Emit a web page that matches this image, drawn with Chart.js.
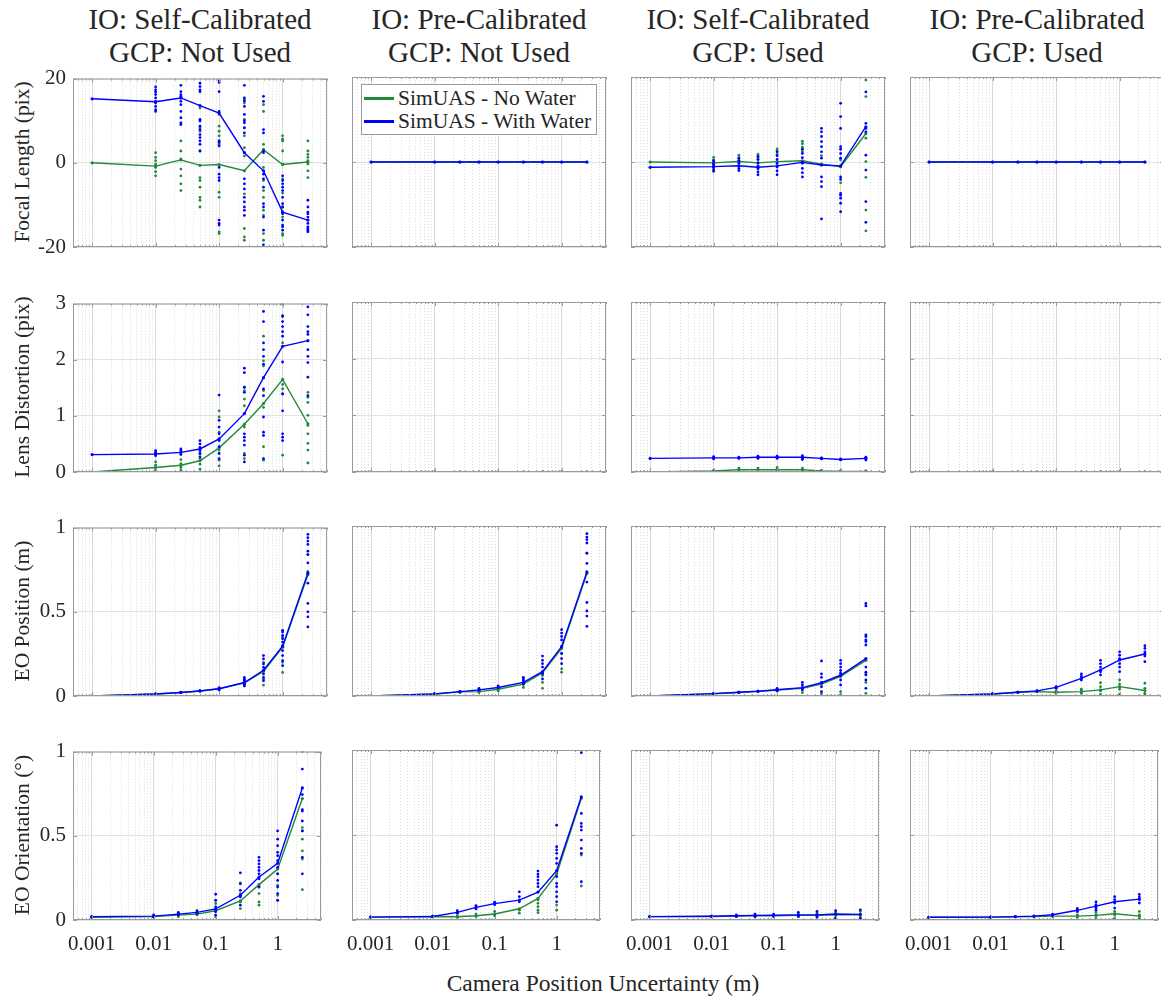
<!DOCTYPE html>
<html>
<head>
<meta charset="utf-8">
<script src="https://cdn.jsdelivr.net/npm/chart.js@4.4.1/dist/chart.umd.min.js"></script>
<style>
  html, body { margin: 0; padding: 0; background: #fff; }
  body { position: relative; width: 1161px; height: 1000px; overflow: hidden; font-family: "Liberation Serif", "DejaVu Serif", serif; color: #262626; }
  canvas.panel { position: absolute; }
  .coltitle { position: absolute; width: 300px; text-align: center; font-size: 29px; line-height: 33px; white-space: nowrap; }
  .ylabel { position: absolute; width: 240px; text-align: center; font-size: 21.5px; line-height: 24px; transform: rotate(-90deg); white-space: nowrap; }
  .xlabel { position: absolute; width: 400px; text-align: center; font-size: 23.5px; line-height: 26px; white-space: nowrap; }
  .legend { position: absolute; left: 361px; top: 84px; width: 234px; height: 49px; border: 1px solid #9b9b9b; background: #fff; z-index: 5; font-size: 21.5px; }
  .legend div { position: absolute; left: 36px; white-space: nowrap; line-height: 22px; }
  .legend span { position: absolute; left: 2px; width: 30px; height: 3px; }
</style>
</head>
<body>
<div class="legend">
  <span style="top:12px;background:#21893a"></span><div style="top:2px">SimUAS - No Water</div>
  <span style="top:35px;background:#0000ff"></span><div style="top:25px">SimUAS - With Water</div>
</div>
<script>
// camera position uncertainty (m) tested in every panel
const xPositions = [0.001, 0.01, 0.025, 0.05, 0.1, 0.25, 0.5, 1, 2.5];
const zeroLine = [0, 0, 0, 0, 0, 0, 0, 0, 0];
const noRuns = [[], [], [], [], [], [], [], [], []];

const ioTitles = ['IO: Self-Calibrated', 'IO: Pre-Calibrated', 'IO: Self-Calibrated', 'IO: Pre-Calibrated'];
const gcpTitles = ['GCP: Not Used', 'GCP: Not Used', 'GCP: Used', 'GCP: Used'];
const rowLabels = ['Focal Length (pix)', 'Lens Distortion (pix)', 'EO Position (m)', 'EO Orientation (\u00b0)'];
const yMins = [-20, 0, 0, 0];
const yMaxs = [20, 3, 1, 1];
const ySteps = [20, 1, 0.5, 0.5];
const xTickLabels = [0.001, 0.01, 0.1, 1];

// ---- focal length error ----
const focalSelfDryMean = [0, -0.8, 0.7, -0.6, -0.4, -1.9, 3.1, -0.4, 0.2];
const focalSelfWetMean = [15.2, 14.5, 15.4, 13.6, 11.8, 2.4, -1.9, -11.7, -13.6];
const focalSelfDryRuns = [
  [], [2.4, 1.3, 0.5, -0.3, -1.1, -2.1, -3.1], [5.2, 2.8, 0.9, -1.5, -3.1, -5.0, -6.6],
  [13.0, 8.3, 7.5, 2.8, -3.5, -4.2, -5.8, -8.2, -8.9, -10.5],
  [11.5, 8.7, 7.5, 6.4, 5.2, 4.4, -7.0, -8.2, -16.4, -16.8],
  [15.0, 14.2, 10.3, 8.3, 6.4, 3.6, 1.6, -7.4, -15.6, -17.6, -18.4],
  [13.8, 12.2, 4.4, 3.2, -1.1, -4.2, -6.6, -8.2, -11.3, -12.5, -16.8, -18.4],
  [6.4, 5.6, 5.2, 2.8, -0.3, -3.8, -7.2, -10.5, -12.9, -16.8, -17.2],
  [5.2, 2.8, 2.0, 1.3, 0.5, -0.3, -1.9, -3.5]
];
const focalSelfWetRuns = [
  [], [18.0, 17.3, 16.8, 16.2, 15.4, 14.6, 14.2, 13.4, 12.6, 12.2],
  [18.4, 16.9, 16.2, 15.8, 15.4, 14.6, 13.8, 12.2, 10.7, 9.5, 9.1],
  [18.9, 18.1, 17.3, 16.9, 10.3, 9.9, 8.7, 7.9, 6.7, 6.0, 5.2, 4.4, 2.8],
  [19.5, 19.1, 16.9, 12.2, 5.2, 4.8, 4.0, -1.1, -2.7, -3.5, -4.2, -13.6, -14.4, -14.8],
  [18.4, 15.4, 14.7, 13.4, 11.5, 10.0, 9.5, 8.3, 7.1, -3.8, -5.0, -6.2, -8.2, -9.3, -10.5, -11.3, -12.5],
  [15.8, 14.6, 7.9, 7.1, 2.8, 2.4, -2.7, -3.8, -5.8, -9.7, -10.5, -12.9, -16.0, -19.5],
  [-3.1, -4.2, -5.0, -5.8, -6.6, -8.2, -9.7, -10.5, -11.7, -12.1, -13.6, -14.8, -15.2, -16.0],
  [-8.9, -10.5, -11.7, -12.1, -12.9, -13.6, -14.4, -15.2, -15.6, -16.0, -16.4]
];
const focalSelfGcpDryMean = [0, -0.2, 0.1, -0.2, 0.1, 0.3, -0.5, -1.1, 6.7];
const focalSelfGcpWetMean = [-1.25, -1.1, -0.9, -1.25, -0.9, -0.1, -0.7, -0.9, 8.3];
const focalSelfGcpDryRuns = [
  [], [1.1, 0.5, 0, -0.5], [1.6, 1.0, 0.4], [1.8, 1.2, 0.6], [3.1, 2.6, 1.8], [4.9, 4.3, 3.5, 2.5],
  [1.5, -0.5], [0.5, -4.9], [19.3, 15.4, 5.6, 0.1, -3.6, -11.3, -16.2]
];
const focalSelfGcpWetRuns = [
  [], [0.3, -0.3, -0.8, -1.3, -1.8, -2.2], [0.9, 0.3, -0.3, -0.9, -1.5, -2.0],
  [1.3, 0.6, -0.2, -0.9, -1.6, -2.3, -3.0], [2.4, 1.5, 0.6, -0.3, -1.2, -2.1, -3.0],
  [3.0, 2.0, 1.0, -0.3, -1.5, -2.5, -3.5],
  [7.9, 7.1, 6.0, 4.8, 3.6, 2.4, 0.9, -3.5, -4.6, -5.8, -13.4],
  [13.8, 10.7, 7.9, 3.6, 3.0, 2.0, 0.9, -3.5, -4.1, -7.4, -7.8, -8.5, -9.7, -11.7],
  [16.5, 9.1, 7.9, 7.1, 1.6, -1.9, -9.3, -14.2]
];

// ---- lens distortion error ----
const lensSelfDryMean = [0, 0.08, 0.12, 0.20, 0.43, 0.85, 1.22, 1.65, 0.86];
const lensSelfWetMean = [0.31, 0.32, 0.35, 0.41, 0.59, 1.04, 1.68, 2.24, 2.34];
const lensSelfDryRuns = [
  [], [0.18, 0.12, 0.06, 0.02], [0.22, 0.15, 0.08, 0.03], [0.32, 0.24, 0.14, 0.05],
  [1.09, 0.98, 0.71, 0.39, 0.21, 0.11], [1.51, 1.45, 1.30, 1.18, 0.80, 0.33, 0.24],
  [2.42, 1.98, 1.89, 1.45, 1.15, 0.45, 0.21], [2.99, 2.79, 2.30, 1.56, 1.48, 1.39, 0.30],
  [1.42, 1.33, 1.24, 1.01, 0.83, 0.68, 0.51, 0.39, 0.16]
];
const lensSelfWetRuns = [
  [], [0.29, 0.32, 0.35, 0.38], [0.31, 0.34, 0.38, 0.41], [0.56, 0.50, 0.44, 0.38, 0.33, 0.27],
  [1.37, 0.92, 0.80, 0.68, 0.56, 0.45, 0.33, 0.24],
  [1.85, 1.77, 1.51, 1.42, 0.68, 0.62, 0.56, 0.48, 0.30, 0.18],
  [2.86, 2.68, 2.30, 2.18, 2.06, 1.92, 1.48, 1.36, 0.98, 0.71, 0.65, 0.24],
  [2.77, 2.68, 2.59, 2.50, 2.42, 1.96, 1.39, 1.09, 0.68, 0.62, 0.56],
  [2.94, 2.80, 2.59, 2.50, 2.45, 2.18, 2.06, 1.95, 1.69, 1.36]
];
const lensSelfGcpDryMean = [0, 0.02, 0.04, 0.04, 0.04, 0.04, 0.02, 0.01, 0.01];
const lensSelfGcpWetMean = [0.24, 0.25, 0.25, 0.26, 0.26, 0.26, 0.24, 0.22, 0.24];
const lensSelfGcpDryRuns = [
  [], [0.0, 0.03], [0.01, 0.05, 0.07], [0.01, 0.05, 0.07], [0.0, 0.05, 0.08], [0.0, 0.04, 0.07],
  [0.0, 0.03], [0.0, 0.02], [0.0, 0.02]
];
const lensSelfGcpWetRuns = [
  [], [0.23, 0.25, 0.27], [0.24, 0.26], [0.24, 0.26, 0.28], [0.24, 0.26, 0.28], [0.22, 0.24, 0.27, 0.29],
  [0.23, 0.25], [0.22, 0.23], [0.21, 0.23, 0.25, 0.26]
];

// ---- exterior orientation: position ----
const posSelfDryMean = [0, 0.012, 0.021, 0.03, 0.043, 0.078, 0.145, 0.29, 0.72];
const posSelfWetMean = [0, 0.012, 0.021, 0.03, 0.043, 0.08, 0.153, 0.296, 0.73];
const posSelfDryRuns = [[], [], [], [], [0.04], [0.06, 0.09], [0.065, 0.1, 0.2], [0.14, 0.2, 0.3, 0.35], [0.84, 0.74]];
const posSelfWetRuns = [
  [], [0.012], [0.021], [0.03], [0.035, 0.05], [0.11, 0.10, 0.09, 0.07, 0.06],
  [0.24, 0.22, 0.19, 0.17, 0.13, 0.11, 0.09],
  [0.39, 0.38, 0.36, 0.34, 0.32, 0.27, 0.24, 0.21, 0.18],
  [0.96, 0.94, 0.92, 0.90, 0.86, 0.84, 0.79, 0.73, 0.67, 0.55, 0.50, 0.47, 0.41]
];
const posPreDryMean = [0, 0.012, 0.024, 0.026, 0.04, 0.07, 0.137, 0.28, 0.72];
const posPreWetMean = [0, 0.012, 0.026, 0.036, 0.05, 0.08, 0.143, 0.29, 0.73];
const posPreDryRuns = [[], [], [0.02], [0.02, 0.03], [0.03, 0.05], [0.05, 0.07], [0.045, 0.08, 0.12], [0.14, 0.16, 0.25], [0.84]];
const posPreWetRuns = [
  [], [0.012], [0.026], [0.036, 0.045], [0.05, 0.06], [0.11, 0.10, 0.09, 0.07],
  [0.235, 0.21, 0.19, 0.17, 0.13, 0.10],
  [0.39, 0.37, 0.35, 0.33, 0.29, 0.25, 0.22, 0.19],
  [0.955, 0.935, 0.92, 0.90, 0.84, 0.78, 0.67, 0.55, 0.50, 0.47, 0.41]
];
const posSelfGcpDryMean = [0, 0.013, 0.021, 0.027, 0.035, 0.045, 0.07, 0.115, 0.21];
const posSelfGcpWetMean = [0, 0.014, 0.022, 0.028, 0.037, 0.049, 0.078, 0.122, 0.22];
const posSelfGcpDryRuns = [[], [], [], [], [0.03], [0.02], [0.012], [0.025, 0.006], [0.13, 0.08, 0.016]];
const posSelfGcpWetRuns = [
  [], [0.014], [0.022], [0.028], [0.03, 0.045], [0.08, 0.065, 0.036],
  [0.206, 0.13, 0.11, 0.08, 0.055, 0.025],
  [0.21, 0.19, 0.17, 0.15, 0.134, 0.094, 0.065],
  [0.544, 0.53, 0.36, 0.35, 0.33, 0.32, 0.30, 0.17, 0.14, 0.124, 0.094, 0.045]
];
const posPreGcpDryMean = [0, 0.012, 0.022, 0.026, 0.022, 0.026, 0.036, 0.055, 0.032];
const posPreGcpWetMean = [0, 0.012, 0.022, 0.03, 0.051, 0.104, 0.153, 0.212, 0.247];
const posPreGcpDryRuns = [
  [], [], [], [], [0.015, 0.03], [0.015, 0.03, 0.04], [0.078, 0.055, 0.03, 0.01],
  [0.094, 0.07, 0.04, 0.01], [0.075, 0.045, 0.016, 0.006]
];
const posPreGcpWetRuns = [
  [], [0.012], [0.022], [0.03], [0.045, 0.055], [0.13, 0.115, 0.094],
  [0.21, 0.19, 0.17, 0.143, 0.124], [0.26, 0.24, 0.22, 0.19, 0.17, 0.143],
  [0.296, 0.28, 0.26, 0.235, 0.202]
];

// ---- exterior orientation: angles ----
const oriSelfDryMean = [0.016, 0.02, 0.029, 0.035, 0.055, 0.113, 0.21, 0.303, 0.721];
const oriSelfWetMean = [0.02, 0.023, 0.035, 0.045, 0.066, 0.147, 0.255, 0.337, 0.784];
const oriSelfDryRuns = [
  [], [0.015, 0.025], [0.02, 0.04], [0.03, 0.045], [0.117, 0.098, 0.059, 0.02],
  [0.221, 0.156, 0.107, 0.068], [0.196, 0.157, 0.107, 0.088], [0.274, 0.206, 0.147, 0.117],
  [1.0, 0.549, 0.529, 0.48, 0.411, 0.362, 0.18]
];
const oriSelfWetRuns = [
  [], [0.02, 0.03], [0.03, 0.045], [0.04, 0.055], [0.153, 0.117, 0.078, 0.049, 0.029],
  [0.28, 0.215, 0.176, 0.137, 0.088],
  [0.372, 0.353, 0.333, 0.313, 0.294, 0.274, 0.245, 0.196],
  [0.529, 0.48, 0.441, 0.402, 0.382, 0.353, 0.313, 0.274, 0.235, 0.196, 0.157, 0.117],
  [0.896, 0.745, 0.656, 0.647, 0.588, 0.529, 0.372, 0.274]
];
const oriPreDryMean = [0.017, 0.021, 0.019, 0.025, 0.035, 0.066, 0.127, 0.27, 0.716];
const oriPreWetMean = [0.017, 0.021, 0.045, 0.074, 0.096, 0.117, 0.164, 0.29, 0.725];
const oriPreDryRuns = [
  [], [], [0.015, 0.025], [0.02, 0.035], [0.025, 0.05], [0.058, 0.04],
  [0.117, 0.098, 0.078, 0.058, 0.043], [0.088, 0.058], [0.382, 0.2]
];
const oriPreWetRuns = [
  [], [0.021], [0.04, 0.055], [0.065, 0.085], [0.09, 0.105], [0.166, 0.137, 0.107],
  [0.288, 0.27, 0.255, 0.235, 0.215, 0.196],
  [0.558, 0.431, 0.412, 0.392, 0.363, 0.333, 0.255, 0.215, 0.196, 0.166, 0.137, 0.107],
  [0.984, 0.627, 0.568, 0.549, 0.529, 0.47, 0.421, 0.392, 0.225]
];
const oriSelfGcpDryMean = [0.02, 0.021, 0.023, 0.024, 0.025, 0.027, 0.027, 0.03, 0.03];
const oriSelfGcpWetMean = [0.02, 0.022, 0.025, 0.027, 0.028, 0.03, 0.03, 0.035, 0.033];
const oriSelfGcpDryRuns = [[], [], [0.02], [0.02], [0.02, 0.03], [0.02, 0.035], [0.02, 0.04], [0.015, 0.045], [0.015, 0.05]];
const oriSelfGcpWetRuns = [[], [0.022], [0.02, 0.03], [0.02, 0.035], [0.02, 0.035], [0.02, 0.045], [0.015, 0.05], [0.01, 0.055], [0.01, 0.06]];
const oriPreGcpDryMean = [0.016, 0.017, 0.019, 0.02, 0.023, 0.023, 0.027, 0.037, 0.023];
const oriPreGcpWetMean = [0.016, 0.017, 0.02, 0.023, 0.031, 0.057, 0.082, 0.107, 0.123];
const oriPreGcpDryRuns = [[], [], [], [], [0.02], [0.015, 0.03], [0.01, 0.03, 0.045], [0.01, 0.03, 0.05], [0.01, 0.03, 0.05]];
const oriPreGcpWetRuns = [
  [], [0.017], [0.02], [0.023], [0.025, 0.035], [0.068, 0.049], [0.107, 0.09, 0.07, 0.058],
  [0.137, 0.12, 0.1, 0.07], [0.15, 0.135, 0.12, 0.1]
];

// rows: focal, lens, position, orientation; columns follow the titles
const panels = [
  [
    [focalSelfDryMean, focalSelfWetMean, focalSelfDryRuns, focalSelfWetRuns],
    [zeroLine, zeroLine, noRuns, noRuns],
    [focalSelfGcpDryMean, focalSelfGcpWetMean, focalSelfGcpDryRuns, focalSelfGcpWetRuns],
    [zeroLine, zeroLine, noRuns, noRuns]
  ],
  [
    [lensSelfDryMean, lensSelfWetMean, lensSelfDryRuns, lensSelfWetRuns],
    [zeroLine, zeroLine, noRuns, noRuns],
    [lensSelfGcpDryMean, lensSelfGcpWetMean, lensSelfGcpDryRuns, lensSelfGcpWetRuns],
    [zeroLine, zeroLine, noRuns, noRuns]
  ],
  [
    [posSelfDryMean, posSelfWetMean, posSelfDryRuns, posSelfWetRuns],
    [posPreDryMean, posPreWetMean, posPreDryRuns, posPreWetRuns],
    [posSelfGcpDryMean, posSelfGcpWetMean, posSelfGcpDryRuns, posSelfGcpWetRuns],
    [posPreGcpDryMean, posPreGcpWetMean, posPreGcpDryRuns, posPreGcpWetRuns]
  ],
  [
    [oriSelfDryMean, oriSelfWetMean, oriSelfDryRuns, oriSelfWetRuns],
    [oriPreDryMean, oriPreWetMean, oriPreDryRuns, oriPreWetRuns],
    [oriSelfGcpDryMean, oriSelfGcpWetMean, oriSelfGcpDryRuns, oriSelfGcpWetRuns],
    [oriPreGcpDryMean, oriPreGcpWetMean, oriPreGcpDryRuns, oriPreGcpWetRuns]
  ]
];

const GREEN = '#21893a';
const BLUE = '#0000ff';
const FRAME = '#9b9b9b';
const FONT = "'Liberation Serif', 'DejaVu Serif', serif";

// plot-area layout
const colLeft = [73, 352, 631, 910];
const rowTop = [77, 302, 526, 750];
const plotW = 254, plotH = 170;
const padL = 70, padR = 6, padT = 18, padB = 40;

const isDecade = v => Math.abs(Math.log10(v) - Math.round(Math.log10(v))) < 1e-6;

function meanPoints(ys) {
  return ys.map((y, i) => ({x: xPositions[i], y}));
}
function runPoints(runs) {
  return runs.flatMap((ys, i) => ys.map(y => ({x: xPositions[i], y})));
}

// closed axes box with inward tick marks
const boxPlugin = {
  id: 'box',
  afterDraw(chart) {
    const {ctx, chartArea: a, scales} = chart;
    ctx.save();
    ctx.strokeStyle = FRAME;
    ctx.lineWidth = 1;
    ctx.beginPath();
    ctx.rect(a.left + 0.5, a.top + 0.5, a.right - a.left - 1, a.bottom - a.top - 1);
    scales.x.ticks.forEach(t => {
      const px = Math.round(scales.x.getPixelForValue(t.value)) + 0.5;
      const len = isDecade(t.value) ? 4 : 2;
      ctx.moveTo(px, a.bottom); ctx.lineTo(px, a.bottom - len);
      ctx.moveTo(px, a.top); ctx.lineTo(px, a.top + len);
    });
    scales.y.ticks.forEach(t => {
      const py = Math.round(scales.y.getPixelForValue(t.value)) + 0.5;
      ctx.moveTo(a.left, py); ctx.lineTo(a.left + 4, py);
      ctx.moveTo(a.right, py); ctx.lineTo(a.right - 4, py);
    });
    ctx.stroke();
    ctx.restore();
  }
};

function makePanel(row, col) {
  const [dryMean, wetMean, dryRuns, wetRuns] = panels[row][col];
  const canvas = document.createElement('canvas');
  canvas.className = 'panel';
  canvas.width = padL + plotW + padR;
  canvas.height = padT + plotH + padB;
  canvas.style.left = (colLeft[col] - padL) + 'px';
  canvas.style.top = (rowTop[row] - padT) + 'px';
  document.body.appendChild(canvas);

  const dotSet = (data, color, order) => ({
    data, order, showLine: false, pointRadius: 1.4, pointHoverRadius: 1.4,
    pointBackgroundColor: color, pointBorderWidth: 0
  });
  const lineSet = (data, color, order) => ({
    data, order, showLine: true, borderColor: color, borderWidth: 1.4,
    pointRadius: 1.6, pointBackgroundColor: color, pointBorderWidth: 0, tension: 0
  });

  new Chart(canvas, {
    type: 'scatter',
    data: {
      datasets: [
        lineSet(meanPoints(wetMean), BLUE, 0),
        dotSet(runPoints(wetRuns), BLUE, 1),
        lineSet(meanPoints(dryMean), GREEN, 2),
        dotSet(runPoints(dryRuns), GREEN, 3)
      ]
    },
    options: {
      responsive: false,
      animation: false,
      devicePixelRatio: 1,
      layout: {padding: {left: 0, right: padR, top: padT, bottom: 0}},
      plugins: {legend: {display: false}, tooltip: {enabled: false}},
      scales: {
        x: {
          type: 'logarithmic',
          min: 0.0005,
          max: 5,
          afterBuildTicks: scale => {
            const ticks = [];
            for (let e = -4; e <= 0; e++) {
              for (let m = 1; m <= 9; m++) {
                const v = Number((m * Math.pow(10, e)).toPrecision(3));
                if (v >= scale.min && v <= scale.max) ticks.push({value: v});
              }
            }
            scale.ticks = ticks;
          },
          afterFit: scale => { scale.height = padB; },
          border: {display: false, dash: c => (c.tick && !isDecade(c.tick.value)) ? [1, 2] : []},
          grid: {drawTicks: false, color: c => (c.tick && isDecade(c.tick.value)) ? '#d9d9d9' : '#dedede'},
          ticks: {
            display: row === 3,
            autoSkip: false,
            maxRotation: 0,
            padding: 12,
            color: '#262626',
            font: {family: FONT, size: 21},
            callback: v => xTickLabels.includes(v) ? String(v) : ''
          }
        },
        y: {
          min: yMins[row],
          max: yMaxs[row],
          afterFit: scale => { scale.width = padL; },
          border: {display: false},
          grid: {drawTicks: false, color: '#e2e2e2'},
          ticks: {
            display: col === 0,
            stepSize: ySteps[row],
            padding: 7,
            color: '#262626',
            font: {family: FONT, size: 21},
            callback: v => String(v)
          }
        }
      }
    },
    plugins: [boxPlugin]
  });
}

for (let c = 0; c < 4; c++) {
  const t = document.createElement('div');
  t.className = 'coltitle';
  t.style.left = (colLeft[c] + plotW / 2 - 150) + 'px';
  t.style.top = '3px';
  t.innerHTML = ioTitles[c] + '<br>' + gcpTitles[c];
  document.body.appendChild(t);
}
for (let r = 0; r < 4; r++) {
  const l = document.createElement('div');
  l.className = 'ylabel';
  l.style.left = (22 - 120) + 'px';
  l.style.top = (rowTop[r] + plotH / 2 - 12) + 'px';
  l.textContent = rowLabels[r];
  document.body.appendChild(l);
  for (let c = 0; c < 4; c++) makePanel(r, c);
}
const xl = document.createElement('div');
xl.className = 'xlabel';
xl.style.left = (603 - 200) + 'px';
xl.style.top = (983 - 13) + 'px';
xl.textContent = 'Camera Position Uncertainty (m)';
document.body.appendChild(xl);
</script>
</body>
</html>
